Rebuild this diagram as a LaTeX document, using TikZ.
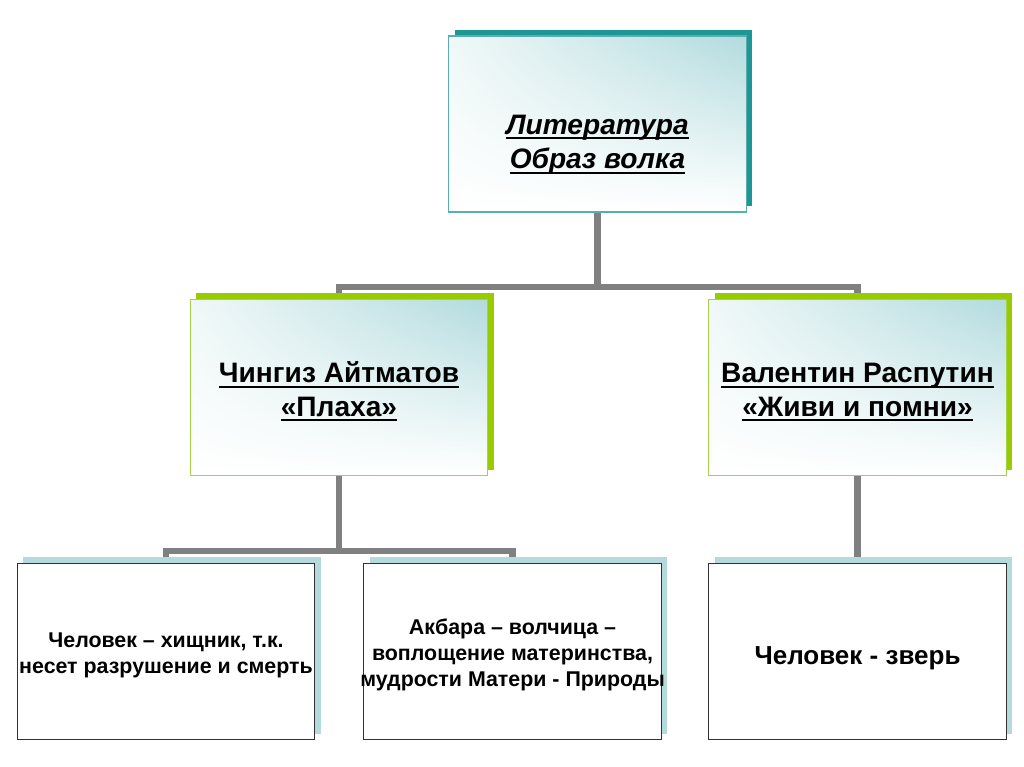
\documentclass[tikz,border=0pt]{standalone}
\usepackage{fontspec}
\setmainfont{Liberation Sans}
\newcommand{\uln}[1]{\setbox0\hbox{#1}\rlap{\smash{\rule[-3.5pt]{\wd0}{1.5pt}}}\box0}
\newcommand{\lbl}[2]{\makebox[0pt]{\raisebox{#1}[0pt][0pt]{\begin{tabular}{@{}c@{}}#2\end{tabular}}}}
\usetikzlibrary{shadows,shadings,backgrounds}
\definecolor{tealdark}{HTML}{1E9696}
\definecolor{tealline}{HTML}{5AAEAE}
\definecolor{tealsoft}{HTML}{B2DBDE}
\definecolor{tealpale}{HTML}{F0F8F8}
\definecolor{limegreen}{HTML}{99CC00}
\definecolor{limeline}{HTML}{A6D24A}
\definecolor{bluegrey}{HTML}{B4DADE}
\definecolor{linkgray}{HTML}{808080}

\begin{document}
\begin{tikzpicture}[x=0.025cm, y=-0.025cm,
  box/.style={minimum width=7.44cm, minimum height=4.4cm, inner sep=1pt},
  glow/.style={shade, upper left=tealpale, upper right=tealsoft, lower left=white, lower right=white},
  topbox/.style={box, glow, draw=tealline, line width=0.8pt,
    drop shadow={shadow xshift=0.15cm, shadow yshift=0.15cm, fill=tealdark, opacity=1},
    font=\bfseries\itshape\fontsize{20}{24.5}\selectfont},
  midbox/.style={box, glow, draw=limeline, line width=0.8pt,
    drop shadow={shadow xshift=0.15cm, shadow yshift=0.15cm, fill=limegreen, opacity=1},
    font=\bfseries\fontsize{20}{24}\selectfont},
  lowbox/.style={box, fill=white, draw=black!80, line width=0.8pt,
    drop shadow={shadow xshift=0.15cm, shadow yshift=0.15cm, fill=bluegrey, opacity=1},
    font=\bfseries\fontsize{15.2}{18.3}\selectfont},
  link/.style={draw=linkgray, line width=4.3pt}]
  \useasboundingbox (0,0) rectangle (1024,767);
  % top
  \node[topbox] (lit) at (597.5,124) {\lbl{-20pt}{\uln{Литература}\\\uln{Образ волка}}};
  % authors
  \node[midbox] (aitm) at (339,387.5) {\lbl{-9pt}{\uln{Чингиз Айтматов}\\\uln{«Плаха»}}};
  \node[midbox] (rasp) at (857.5,387.5) {\lbl{-9pt}{\uln{Валентин Распутин}\\\uln{«Живи и помни»}}};
  % ideas
  \node[lowbox] (man) at (166,651.5) {\lbl{-6.5pt}{Человек – хищник, т.к.\\несет разрушение и смерть}};
  \node[lowbox] (akbara) at (512.5,651.5) {\lbl{-6.5pt}{Акбара – волчица –\\воплощение материнства,\\мудрости Матери - Природы}};
  \node[lowbox, font=\bfseries\fontsize{18.5}{22}\selectfont] (beast) at (857.5,651.5) {\lbl{-9pt}{Человек - зверь}};
  % links
  \coordinate (bus1) at (597.5,287);
  \coordinate (bus2) at (339,551);
  \begin{scope}[on background layer]
  \fill[white] (0,0) rectangle (1024,767);
  \draw[link] (lit.south) -- (bus1);
  \draw[link] (aitm.north) |- (bus1) -| (rasp.north);
  \draw[link] (aitm.south) -- (bus2);
  \draw[link] (man.north) |- (bus2) -| (akbara.north);
  \draw[link] (rasp.south) -- (beast.north);
  \end{scope}
\end{tikzpicture}
\end{document}
